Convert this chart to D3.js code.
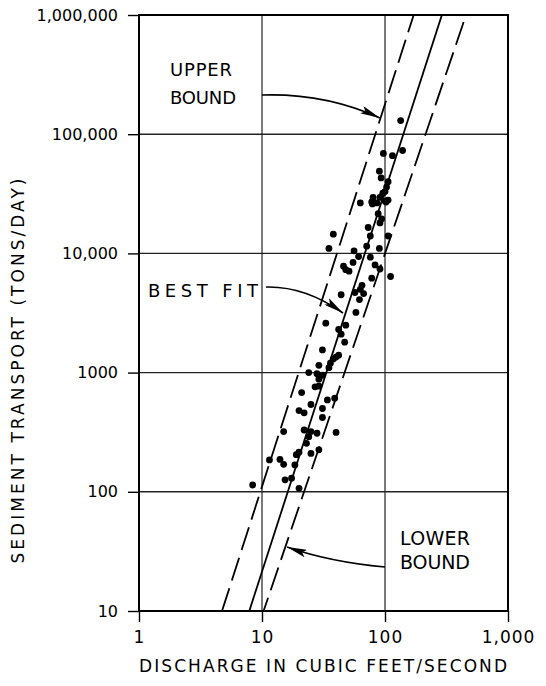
<!DOCTYPE html>
<html><head><meta charset="utf-8">
<script src="https://cdn.jsdelivr.net/npm/d3@7"></script>
<style>body{margin:0;background:#fff}svg{display:block}</style>
</head><body><svg id="c" width="546" height="686"></svg>
<script>
// Discharge (cfs) and sediment transport (tons/day)
const discharge = [134,97,115,139,90,93,106,103,100,96,80,91,106,63,78,86,100,79,102,88,94,91,73,38,76,106,35,56,71,90,61,76,55,83,46,48,51,91,78,111,65,63,44,67,57,62,58,33,48,42,44,47,31,42,38,40,29,36,35,24,28,31,29,27,21,29,25,34,20,22,31,31,15,22,25,28,24,40,23,20,19,25,29,11.5,14,15,18.5,15.4,17.4,8.4,20,39];
const sediment = [130000,69000,66000,73000,49000,43000,40000,36000,33000,32000,29500,29500,28000,26500,27000,26500,27500,26000,27000,21500,19500,18000,16500,14500,14000,14000,11000,10500,11500,11000,9400,9300,8400,8000,7800,7300,7100,7400,6200,6400,5400,5000,4500,4600,4700,4100,3200,2600,2500,2300,2100,1800,1550,1400,1300,1350,1150,1200,1100,1000,980,950,880,760,680,770,540,590,480,460,500,420,320,330,320,310,290,315,255,215,205,210,225,185,187,170,168,126,130,114,107,610];

const xTicks = [1,10,100,1000];
const xTickLabels = ["1","10","100","1,000"];
const yTicks = [10,100,1000,10000,100000,1000000];
const yTickLabels = ["10","100","1000","10,000","100,000","1,000,000"];

// Lines as (discharge, sediment) endpoints
const upperX = [4.73,171], upperY = [10,1000000];
const bestX = [7.88,290], bestY = [10,1000000];
const lowerX = [10.3,456], lowerY = [10,1000000];

const FONT = "'DejaVu Sans', sans-serif";
const svg = d3.select("#c");
const x = d3.scaleLog().domain([1,1000]).range([139,508]);
const y = d3.scaleLog().domain([10,1000000]).range([611,15]);

svg.append("defs").append("clipPath").attr("id","clip")
  .append("rect").attr("x",139).attr("y",15).attr("width",369).attr("height",596);
const mk = svg.select("defs").append("marker").attr("id","ah")
  .attr("viewBox","0 0 20 8").attr("refX",20).attr("refY",4)
  .attr("markerWidth",20).attr("markerHeight",8)
  .attr("markerUnits","userSpaceOnUse").attr("orient","auto");
mk.append("path").attr("d","M0,0 L20,4 L0,8 L4,4 Z").attr("fill","#000");

// gridlines
const g = svg.append("g");
[10,100].forEach(v=>g.append("line").attr("x1",x(v)).attr("x2",x(v)).attr("y1",15).attr("y2",611)
  .attr("stroke","#222").attr("stroke-width",1.2));
[100,1000,10000,100000].forEach(v=>g.append("line").attr("x1",139).attr("x2",508).attr("y1",y(v)).attr("y2",y(v))
  .attr("stroke","#222").attr("stroke-width",1.4));

// axes
const ax = svg.append("g").attr("transform","translate(139,0)")
  .call(d3.axisLeft(y).tickValues(yTicks).tickFormat((d,i)=>yTickLabels[i]).tickSize(11).tickPadding(10));
const bx = svg.append("g").attr("transform","translate(0,611)")
  .call(d3.axisBottom(x).tickValues(xTicks).tickFormat((d,i)=>xTickLabels[i]).tickSize(11).tickPadding(9));
[ax,bx].forEach(a=>{
  a.select(".domain").remove();
  a.selectAll("line").attr("stroke","#000").attr("stroke-width",1.4);
  a.selectAll("text").attr("font-family",FONT).attr("font-size",17).attr("fill","#000");
});
ax.selectAll("text").attr("font-size",16);
bx.selectAll("text").attr("letter-spacing",1);

// frame
svg.append("rect").attr("x",139).attr("y",15).attr("width",369).attr("height",596)
  .attr("fill","none").attr("stroke","#000").attr("stroke-width",2);

// fit lines
const line = d3.line().x(d=>x(d[0])).y(d=>y(d[1]));
const lg = svg.append("g").attr("clip-path","url(#clip)");
lg.append("path").attr("d",line(d3.zip(upperX,upperY))).attr("stroke","#000").attr("stroke-width",1.8)
  .attr("fill","none").attr("stroke-dasharray","24,8");
lg.append("path").attr("d",line(d3.zip(bestX,bestY))).attr("stroke","#000").attr("stroke-width",1.8).attr("fill","none");
lg.append("path").attr("d",line(d3.zip(lowerX,lowerY))).attr("stroke","#000").attr("stroke-width",1.8)
  .attr("fill","none").attr("stroke-dasharray","24,8").attr("stroke-dashoffset",10);

// points
svg.append("g").selectAll("circle").data(d3.zip(discharge,sediment)).join("circle")
  .attr("cx",d=>x(d[0])).attr("cy",d=>y(d[1])).attr("r",3.4).attr("fill","#000");

// annotations
function txt(s,xx,yy,len,size){
  return svg.append("text").attr("x",xx).attr("y",yy).attr("font-family",FONT).attr("font-size",size||17)
    .attr("fill","#000").attr("textLength",len).attr("lengthAdjust","spacing").text(s);
}
txt("UPPER",170,76,62,18);
txt("BOUND",170,104,66,18);
txt("BEST FIT",148,297,110,18);
txt("LOWER",400,545,70,19);
txt("BOUND",400,569,70,19);

const ag = svg.append("g").attr("fill","none").attr("stroke","#000").attr("stroke-width",1.6);
ag.append("path").attr("d","M262,95 Q325,93 380,118").attr("marker-end","url(#ah)");
ag.append("path").attr("d","M266,287 Q305,286 343,313").attr("marker-end","url(#ah)");
ag.append("path").attr("d","M385,567 Q330,562 287,547").attr("marker-end","url(#ah)");

// axis titles
svg.append("text").attr("x",323).attr("y",672).attr("text-anchor","middle").attr("font-family",FONT)
  .attr("font-size",17).attr("textLength",368).attr("lengthAdjust","spacing").text("DISCHARGE IN CUBIC FEET/SECOND");
svg.append("text").attr("transform","translate(24,371) rotate(-90)").attr("text-anchor","middle").attr("font-family",FONT)
  .attr("font-size",17).attr("textLength",385).attr("lengthAdjust","spacing").text("SEDIMENT TRANSPORT (TONS/DAY)");
</script></body></html>
